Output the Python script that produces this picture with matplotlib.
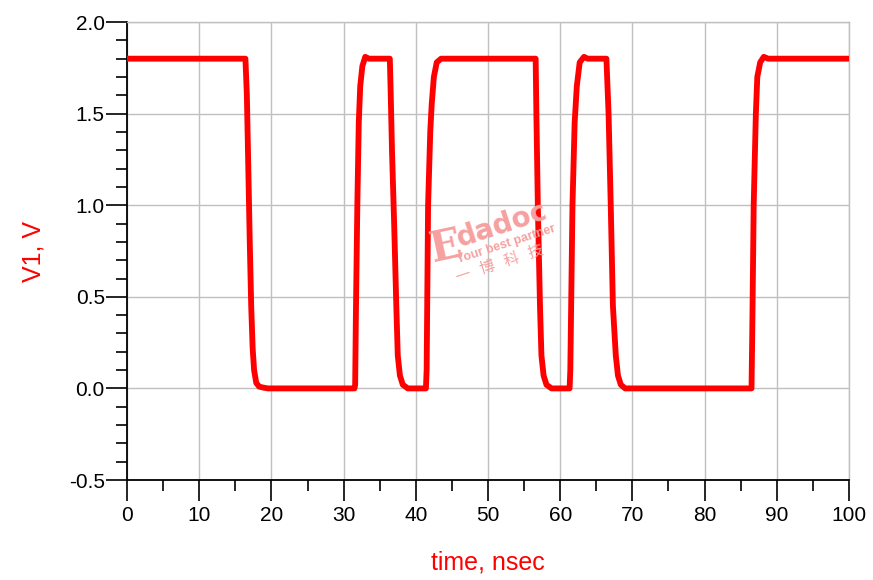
import matplotlib
matplotlib.use('Agg')
import matplotlib.pyplot as plt
from matplotlib.ticker import MultipleLocator, FormatStrFormatter

# 波形数据：时间 ns / 电压 V
t_ns = [0, 16.4, 16.6, 16.8, 17.0, 17.2, 17.4, 17.6, 17.9, 18.3, 18.8, 19.5,
        31.5, 31.6, 31.7, 31.9, 32.1, 32.3, 32.6, 33.0, 33.5,
        36.4, 36.5, 36.7, 37.0, 37.3, 37.5, 37.8, 38.2, 38.9,
        41.4, 41.5, 41.7, 42.0, 42.2, 42.5, 42.9, 43.5,
        56.6, 56.7, 56.9, 57.2, 57.4, 57.7, 58.1, 58.8,
        61.3, 61.4, 61.7, 62.0, 62.3, 62.7, 63.3, 63.8,
        66.4, 66.7, 67.0, 67.3, 67.7, 68.0, 68.4, 69.0,
        86.5, 86.6, 86.8, 87.1, 87.3, 87.7, 88.2, 88.8, 100]
v1 = [1.80, 1.80, 1.60, 1.20, 0.80, 0.45, 0.22, 0.10, 0.03, 0.01, 0.005, 0.0,
      0.0, 0.02, 0.40, 1.00, 1.45, 1.65, 1.76, 1.81, 1.80,
      1.80, 1.65, 1.30, 0.90, 0.45, 0.18, 0.07, 0.02, 0.0,
      0.0, 0.10, 1.00, 1.40, 1.55, 1.70, 1.78, 1.80,
      1.80, 1.50, 1.00, 0.45, 0.18, 0.07, 0.02, 0.0,
      0.0, 0.10, 1.00, 1.45, 1.65, 1.78, 1.81, 1.80,
      1.80, 1.50, 1.00, 0.45, 0.18, 0.07, 0.02, 0.0,
      0.0, 0.30, 1.00, 1.50, 1.70, 1.78, 1.81, 1.80, 1.80]

plt.rcParams['font.family'] = ['Liberation Sans', 'DejaVu Sans']
plt.rcParams['axes.unicode_minus'] = False

fig = plt.figure(figsize=(8.73, 5.80), dpi=100)
ax = fig.add_axes([0.1455, 0.1724, 0.827, 0.7896])

ax.plot(t_ns, v1, color='#ff0000', linewidth=4.2, solid_joinstyle='round', zorder=3)

ax.set_xlim(0, 100)
ax.set_ylim(-0.5, 2.0)
ax.xaxis.set_major_locator(MultipleLocator(10))
ax.xaxis.set_minor_locator(MultipleLocator(5))
ax.yaxis.set_major_locator(MultipleLocator(0.5))
ax.yaxis.set_minor_locator(MultipleLocator(0.1))
ax.yaxis.set_major_formatter(FormatStrFormatter('%.1f'))

ax.grid(True, which='major', color='#c0c0c0', linewidth=1)
ax.tick_params(which='major', direction='out', length=15, width=1.2,
               labelsize=15, colors='black')
ax.tick_params(which='minor', direction='out', length=8, width=1.2)
ax.tick_params(axis='x', pad=4)
ax.tick_params(axis='y', pad=1)

for s in ['left', 'bottom']:
    ax.spines[s].set_color('black')
    ax.spines[s].set_linewidth(1.3)
for s in ['top', 'right']:
    ax.spines[s].set_color('#c0c0c0')
    ax.spines[s].set_linewidth(1)

ax.set_xlabel('time, nsec', color='#ff0000', fontsize=18, labelpad=18)
ax.set_ylabel('V1, V', color='#ff0000', fontsize=18, labelpad=17)

# 水印
wm = '#f6a0a0'
fig.text(0.511, 0.575, 'E', rotation=12, fontsize=30, fontweight='bold',
         family='DejaVu Serif', color=wm, ha='center', va='center')
fig.text(0.575, 0.612, 'dadoc', rotation=18, fontsize=20, fontweight='bold',
         family='DejaVu Sans', color=wm, ha='center', va='center')
fig.text(0.580, 0.578, 'Your best partner', rotation=18, fontsize=9,
         fontweight='bold', color=wm, ha='center', va='center')
fig.text(0.573, 0.545, '一   博   科   技', rotation=18, fontsize=11,
         family=['Noto Sans CJK SC', 'DejaVu Sans'], color=wm,
         ha='center', va='center')

fig.savefig('out.png', dpi=100)
